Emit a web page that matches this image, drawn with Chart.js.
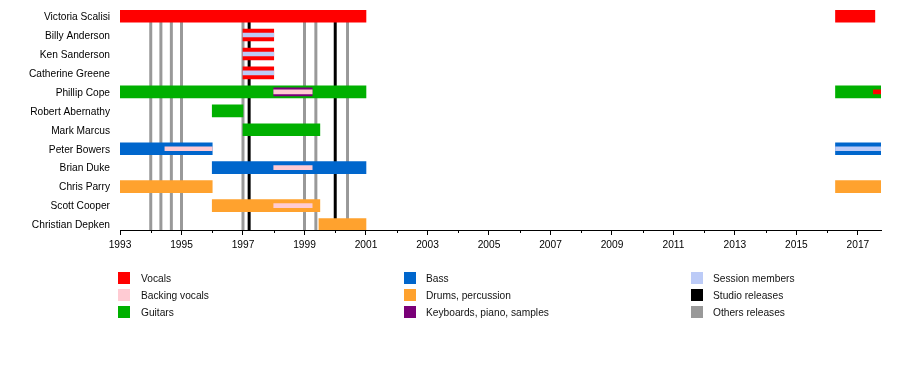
<!DOCTYPE html>
<html>
<head>
<meta charset="utf-8">
<script src="https://cdn.jsdelivr.net/npm/chart.js@4/dist/chart.umd.min.js"></script>
<style>
  html, body { margin: 0; padding: 0; background: #fff; }
  #wrap { position: relative; width: 900px; height: 380px; }
  #c { position: absolute; left: 0; top: 0; }
  .lg-sw { position: absolute; width: 12px; height: 12px; }
  .lg-tx { position: absolute; height: 14px; line-height: 14px; font: 10.2px "Liberation Sans", Arial, sans-serif; color: #111; white-space: nowrap; }
</style>
</head>
<body>
<div id="wrap">
  <canvas id="c" width="900" height="380"></canvas>
  <div id="legend"></div>
</div>
<script>
// ---------- data ----------
const members = ["Victoria Scalisi", "Billy Anderson", "Ken Sanderson", "Catherine Greene", "Phillip Cope",
  "Robert Abernathy", "Mark Marcus", "Peter Bowers", "Brian Duke", "Chris Parry", "Scott Cooper", "Christian Depken"];

const vocals = [["Victoria Scalisi", 1993, 2001], ["Victoria Scalisi", 2016.27, 2017.55],
  ["Billy Anderson", 1997, 1998], ["Ken Sanderson", 1997, 1998], ["Catherine Greene", 1997, 1998]];
const guitars = [["Phillip Cope", 1993, 2001], ["Phillip Cope", 2016.27, 2017.75],
  ["Robert Abernathy", 1996, 1997], ["Mark Marcus", 1997, 1999.5]];
const bass = [["Peter Bowers", 1993, 1996], ["Peter Bowers", 2016.27, 2017.75], ["Brian Duke", 1996, 2001]];
const drums = [["Chris Parry", 1993, 1996], ["Chris Parry", 2016.27, 2017.75],
  ["Scott Cooper", 1996, 1999.5], ["Christian Depken", 1999.47, 2001]];
const keyboards = [["Phillip Cope", 1998, 1999.25]];
const backingVocals = [["Phillip Cope", 1998, 1999.25], ["Peter Bowers", 1994.46, 1996],
  ["Brian Duke", 1998, 1999.25], ["Scott Cooper", 1998, 1999.25]];
const sessionMembers = [["Billy Anderson", 1997, 1998], ["Ken Sanderson", 1997, 1998],
  ["Catherine Greene", 1997, 1998], ["Peter Bowers", 2016.27, 2017.75]];
const vocalsInner = [["Phillip Cope", 2017.5, 2017.75]];

const studioReleases = [1997.2, 2000.0];
const otherReleases = [1994.0, 1994.33, 1994.67, 1995.0, 1997.0, 1999.0, 1999.37, 2000.4];

const yearMin = 1993, yearMax = 2017.75;
const majorYears = [1993, 1995, 1997, 1999, 2001, 2003, 2005, 2007, 2009, 2011, 2013, 2015, 2017];
const minorYears = [1994, 1996, 1998, 2000, 2002, 2004, 2006, 2008, 2010, 2012, 2014, 2016];

const legendLabels = ["Vocals", "Backing vocals", "Guitars", "Bass", "Drums, percussion",
  "Keyboards, piano, samples", "Session members", "Studio releases", "Others releases"];

// ---------- styles ----------
const COLORS = {
  vocals: "#ff0000", backing: "#ffcbd3", guitars: "#00b000", bass: "#0066cc",
  drums: "#ffa22e", keyboards: "#7a0078", session: "#bccbf7", studio: "#000000", others: "#999999"
};
const legendColors = [COLORS.vocals, COLORS.backing, COLORS.guitars, COLORS.bass, COLORS.drums,
  COLORS.keyboards, COLORS.session, COLORS.studio, COLORS.others];
const FONT = { family: "'Liberation Sans', Arial, sans-serif", size: 10.2 };

const toData = arr => arr.map(([m, s, e]) => ({ x: [s, e], y: members.indexOf(m) }));
function ds(label, arr, color, thick, order) {
  return { label, data: toData(arr), backgroundColor: color, barThickness: thick,
    grouped: false, order, borderWidth: 0, borderSkipped: false };
}

const releasesPlugin = {
  id: "releases",
  beforeDatasetsDraw(chart) {
    const { ctx, chartArea, scales: { x } } = chart;
    ctx.save();
    ctx.lineWidth = 3;
    const draw = (yrs, col) => {
      ctx.strokeStyle = col;
      yrs.forEach(y => {
        const px = x.getPixelForValue(y);
        ctx.beginPath();
        ctx.moveTo(px, chartArea.top);
        ctx.lineTo(px, chartArea.bottom);
        ctx.stroke();
      });
    };
    draw(otherReleases, COLORS.others);
    draw(studioReleases, COLORS.studio);
    ctx.restore();
  },
  afterDraw(chart) {
    const { ctx, chartArea, scales: { x } } = chart;
    ctx.save();
    ctx.strokeStyle = "#000";
    ctx.lineWidth = 1;
    minorYears.forEach(y => {
      const px = Math.round(x.getPixelForValue(y)) + 0.5;
      ctx.beginPath();
      ctx.moveTo(px, chartArea.bottom);
      ctx.lineTo(px, chartArea.bottom + 3);
      ctx.stroke();
    });
    ctx.restore();
  }
};

new Chart(document.getElementById("c"), {
  type: "bar",
  data: {
    datasets: [
      ds("Vocals", vocals, COLORS.vocals, 12, 3),
      ds("Guitars", guitars, COLORS.guitars, 12, 3),
      ds("Bass", bass, COLORS.bass, 12, 3),
      ds("Drums, percussion", drums, COLORS.drums, 12, 3),
      ds("Keyboards, piano, samples", keyboards, COLORS.keyboards, 8, 2),
      ds("Backing vocals", backingVocals, COLORS.backing, 4, 1),
      ds("Session members", sessionMembers, COLORS.session, 4, 1),
      ds("Vocals (inner)", vocalsInner, COLORS.vocals, 4, 1)
    ]
  },
  options: {
    indexAxis: "y",
    responsive: false,
    animation: false,
    devicePixelRatio: 1,
    layout: { padding: { top: 10, right: 19, left: 0, bottom: 0 } },
    plugins: { legend: { display: false }, tooltip: { enabled: false } },
    scales: {
      x: {
        type: "linear", position: "bottom", min: yearMin, max: yearMax, offset: false,
        afterBuildTicks: s => { s.ticks = majorYears.map(v => ({ value: v })); },
        afterFit: s => { s.height = 150; s.paddingLeft = 0; s.paddingRight = 0; },
        ticks: { callback: v => String(v), font: FONT, color: "#000", padding: 4, maxRotation: 0, autoSkip: false },
        grid: { drawOnChartArea: false, drawTicks: true, tickLength: 5, color: "#000", tickWidth: 1, offset: false },
        border: { display: true, color: "#000", width: 1 }
      },
      y: {
        type: "linear", reverse: true, min: -0.32, max: 11.29, offset: false,
        afterBuildTicks: s => { s.ticks = members.map((_, i) => ({ value: i })); },
        afterFit: s => { s.width = 120; s.paddingTop = 0; s.paddingBottom = 0; },
        ticks: { callback: v => members[v], font: FONT, color: "#000", padding: 10, autoSkip: false, labelOffset: 1 },
        grid: { display: false, drawTicks: false, offset: false },
        border: { display: false }
      }
    }
  },
  plugins: [releasesPlugin]
});

// ---------- HTML legend ----------
const legend = document.getElementById("legend");
const colX = [[118, 141], [404, 426], [691, 713]];
const rowY = [272, 289, 306];
legendLabels.forEach((lab, i) => {
  const c = Math.floor(i / 3), r = i % 3;
  const sw = document.createElement("div");
  sw.className = "lg-sw";
  sw.style.left = colX[c][0] + "px";
  sw.style.top = rowY[r] + "px";
  sw.style.background = legendColors[i];
  legend.appendChild(sw);
  const tx = document.createElement("div");
  tx.className = "lg-tx";
  tx.style.left = colX[c][1] + "px";
  tx.style.top = (rowY[r] + 1) + "px";
  tx.textContent = lab;
  legend.appendChild(tx);
});
</script>
</body>
</html>
